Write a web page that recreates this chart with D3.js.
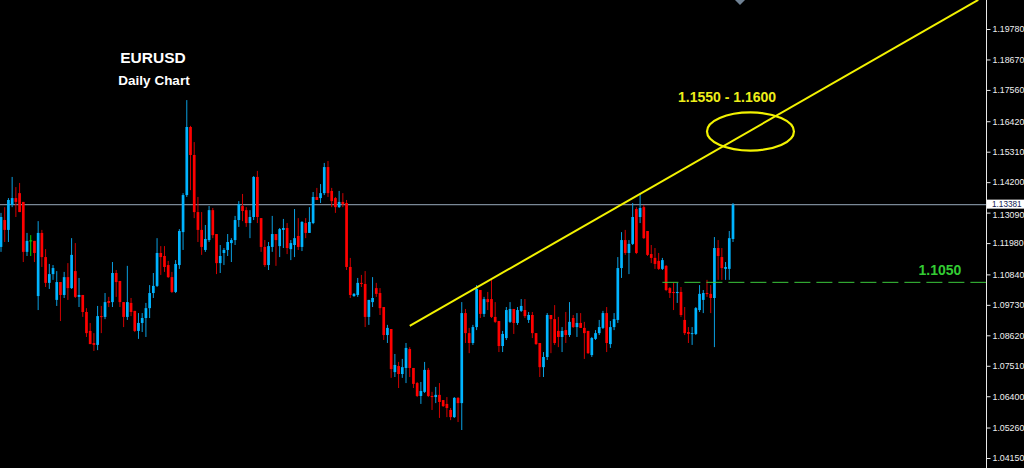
<!DOCTYPE html>
<html><head><meta charset="utf-8">
<script src="https://cdn.jsdelivr.net/npm/d3@7"></script>
<style>html,body{margin:0;padding:0;background:#000;overflow:hidden}svg{display:block}</style>
</head><body><svg id="c" width="1024" height="468"></svg>
<script>
const opens = [1.1184,1.1282,1.1246,1.1337,1.1362,1.1380,1.1348,1.1166,1.1206,1.1206,1.1005,1.1235,1.1147,1.1053,1.1085,1.0991,1.1056,1.1009,1.1074,1.1034,1.1096,1.1002,1.1009,1.0947,1.0878,1.0834,1.0827,1.0932,1.0929,1.0987,1.0983,1.1089,1.1060,1.0983,1.0929,1.0980,1.0951,1.0878,1.0907,1.0925,1.0961,1.1016,1.1042,1.1162,1.1151,1.1118,1.1074,1.1020,1.1118,1.1238,1.1373,1.1621,1.1519,1.1311,1.1246,1.1173,1.1209,1.1318,1.1231,1.1125,1.1162,1.1173,1.1198,1.1209,1.1282,1.1333,1.1318,1.1271,1.1293,1.1439,1.1289,1.1184,1.1118,1.1184,1.1231,1.1187,1.1246,1.1253,1.1176,1.1191,1.1224,1.1184,1.1271,1.1235,1.1271,1.1366,1.1362,1.1380,1.1475,1.1388,1.1362,1.1329,1.1348,1.1344,1.1111,1.1005,1.1009,1.1053,1.1049,1.0929,1.0983,1.1034,1.1016,1.0965,1.0863,1.0885,1.0728,1.0750,1.0721,1.0743,1.0812,1.0743,1.0688,1.0641,1.0656,1.0736,1.0641,1.0637,1.0645,1.0626,1.0612,1.0590,1.0564,1.0634,1.0615,1.0943,1.0870,1.0834,1.0892,1.1027,1.0940,1.0994,1.0994,1.0929,1.0914,1.0823,1.0852,1.0911,1.0958,1.0907,1.0951,1.0954,1.0918,1.0936,1.0870,1.0834,1.0746,1.0783,1.0936,1.0921,1.0878,1.0856,1.0881,1.0863,1.0925,1.0892,1.0907,1.0889,1.0878,1.0790,1.0849,1.0870,1.0889,1.0943,1.0830,1.0892,1.0918,1.1107,1.1209,1.1162,1.1195,1.1322,1.1293,1.1329,1.1242,1.1158,1.1144,1.1133,1.1104,1.1115,1.1034,1.1020,1.1016,1.1020,1.0918,1.0874,1.0867,1.0867,1.0954,1.0991,1.1016,1.1013,1.0998,1.1180,1.1147,1.1104,1.1104,1.1213];
const highs = [1.1308,1.1329,1.1362,1.1439,1.1402,1.1417,1.1348,1.1235,1.1227,1.1206,1.1278,1.1246,1.1176,1.1122,1.1118,1.1096,1.1056,1.1093,1.1125,1.1216,1.1198,1.1071,1.1009,1.0961,1.0907,1.0870,1.0969,1.0969,1.1016,1.1002,1.1129,1.1100,1.1060,1.0983,1.1115,1.0998,1.0951,1.0943,1.0943,1.0980,1.1045,1.1089,1.1216,1.1187,1.1187,1.1133,1.1093,1.1136,1.1249,1.1380,1.1719,1.1625,1.1566,1.1366,1.1311,1.1264,1.1333,1.1326,1.1231,1.1191,1.1180,1.1231,1.1216,1.1297,1.1351,1.1377,1.1329,1.1318,1.1442,1.1461,1.1289,1.1209,1.1202,1.1297,1.1231,1.1253,1.1286,1.1271,1.1209,1.1322,1.1289,1.1278,1.1289,1.1329,1.1384,1.1399,1.1413,1.1490,1.1497,1.1399,1.1366,1.1388,1.1380,1.1355,1.1144,1.1016,1.1071,1.1082,1.1096,1.0991,1.1074,1.1053,1.1034,1.0965,1.0900,1.0885,1.0794,1.0765,1.0776,1.0834,1.0819,1.0743,1.0692,1.0692,1.0765,1.0743,1.0656,1.0674,1.0688,1.0626,1.0637,1.0597,1.0637,1.0637,1.0983,1.0958,1.0889,1.0900,1.1045,1.1027,1.1002,1.1020,1.1064,1.0983,1.0914,1.0878,1.0965,1.0983,1.0958,1.0965,1.0994,1.0994,1.0947,1.0947,1.0870,1.0834,1.0801,1.0943,1.0936,1.0972,1.0929,1.0892,1.0947,1.0983,1.0936,1.0943,1.0943,1.0911,1.0878,1.0856,1.0881,1.0918,1.0951,1.0965,1.0914,1.0943,1.1147,1.1238,1.1246,1.1209,1.1344,1.1329,1.1380,1.1337,1.1242,1.1191,1.1180,1.1162,1.1144,1.1118,1.1038,1.1053,1.1053,1.1038,1.0965,1.0892,1.0892,1.0965,1.1045,1.1027,1.1064,1.1045,1.1220,1.1209,1.1180,1.1129,1.1242,1.1344];
const lows = [1.1166,1.1202,1.1202,1.1329,1.1293,1.1311,1.1129,1.1151,1.1151,1.1129,1.0954,1.1111,1.1038,1.1031,1.1064,1.0969,1.0914,1.0998,1.0991,1.1031,1.0998,1.0965,1.0929,1.0856,1.0830,1.0805,1.0808,1.0870,1.0921,1.0965,1.0965,1.1002,1.0965,1.0892,1.0918,1.0932,1.0874,1.0849,1.0874,1.0856,1.0925,1.0998,1.1038,1.1082,1.1093,1.1071,1.1016,1.1016,1.1104,1.1173,1.1366,1.1391,1.1289,1.1202,1.1155,1.1166,1.1202,1.1216,1.1085,1.1089,1.1118,1.1151,1.1129,1.1191,1.1257,1.1278,1.1257,1.1216,1.1282,1.1271,1.1166,1.1111,1.1100,1.1166,1.1115,1.1147,1.1180,1.1158,1.1136,1.1147,1.1173,1.1169,1.1216,1.1235,1.1267,1.1355,1.1344,1.1373,1.1366,1.1329,1.1308,1.1326,1.1329,1.1100,1.0998,1.1002,1.1002,1.1038,1.0892,1.0900,1.0965,1.1002,1.0936,1.0845,1.0834,1.0707,1.0710,1.0670,1.0707,1.0688,1.0710,1.0670,1.0637,1.0612,1.0652,1.0637,1.0590,1.0615,1.0561,1.0601,1.0564,1.0553,1.0561,1.0546,1.0517,1.0834,1.0797,1.0827,1.0881,1.0925,1.0929,1.0954,1.0925,1.0907,1.0801,1.0801,1.0845,1.0907,1.0867,1.0900,1.0947,1.0925,1.0907,1.0852,1.0827,1.0710,1.0710,1.0772,1.0797,1.0827,1.0819,1.0801,1.0834,1.0856,1.0889,1.0856,1.0889,1.0776,1.0794,1.0783,1.0845,1.0863,1.0885,1.0801,1.0816,1.0881,1.0907,1.1071,1.1155,1.1085,1.1191,1.1158,1.1271,1.1213,1.1151,1.1125,1.1104,1.1100,1.1100,1.1023,1.0998,1.0954,1.0980,1.0929,1.0863,1.0834,1.0827,1.0863,1.0947,1.0943,1.1002,1.0943,1.0819,1.1064,1.1064,1.1064,1.1064,1.1202];
const closes = [1.1293,1.1246,1.1355,1.1362,1.1348,1.1311,1.1166,1.1206,1.1206,1.1162,1.1235,1.1147,1.1053,1.1085,1.1107,1.1056,1.1009,1.1074,1.1034,1.1155,1.1002,1.1009,1.0947,1.0870,1.0830,1.0827,1.0932,1.0929,1.0983,1.0980,1.1089,1.1056,1.0983,1.0929,1.0983,1.0947,1.0878,1.0907,1.0925,1.0961,1.1016,1.1042,1.1162,1.1147,1.1111,1.1074,1.1020,1.1122,1.1242,1.1373,1.1621,1.1519,1.1311,1.1246,1.1184,1.1213,1.1318,1.1227,1.1125,1.1151,1.1173,1.1202,1.1209,1.1282,1.1340,1.1315,1.1271,1.1293,1.1439,1.1293,1.1184,1.1118,1.1187,1.1231,1.1209,1.1249,1.1253,1.1180,1.1198,1.1216,1.1184,1.1275,1.1235,1.1275,1.1366,1.1355,1.1380,1.1475,1.1380,1.1351,1.1329,1.1348,1.1340,1.1111,1.1009,1.1013,1.1053,1.1049,1.0929,1.0991,1.0998,1.1013,1.0961,1.0863,1.0889,1.0739,1.0754,1.0721,1.0746,1.0816,1.0743,1.0685,1.0641,1.0659,1.0736,1.0641,1.0637,1.0645,1.0619,1.0604,1.0597,1.0564,1.0634,1.0615,1.0943,1.0870,1.0834,1.0892,1.1031,1.0940,1.0994,1.0983,1.0929,1.0911,1.0823,1.0867,1.0954,1.0958,1.0907,1.0954,1.0969,1.0932,1.0936,1.0870,1.0830,1.0746,1.0783,1.0936,1.0921,1.0834,1.0856,1.0878,1.0863,1.0911,1.0892,1.0907,1.0889,1.0870,1.0797,1.0852,1.0870,1.0892,1.0943,1.0834,1.0892,1.0921,1.1107,1.1209,1.1162,1.1195,1.1293,1.1162,1.1326,1.1216,1.1155,1.1144,1.1122,1.1104,1.1136,1.1027,1.1016,1.1016,1.1020,1.0936,1.0870,1.0867,1.0870,1.0961,1.1013,1.1016,1.1013,1.0998,1.1180,1.1151,1.1107,1.1111,1.1216,1.13381];

const priceTicks = [1.19780,1.18670,1.17560,1.16420,1.15310,1.14200,1.13090,1.11980,1.10840,1.09730,1.08620,1.07510,1.06400,1.05260,1.04150];
const bidPrice = 1.13381;
const supportLevel = 1.1055;      // drawn level (labelled 1.1050)
const supportLabel = "1.1050";
const trendIdx = [110, 263];
const trendPrice = [1.0896, 1.2084];
const zoneIdx = [190, 213.4];
const zonePrice = [1.1535, 1.1674];
const zoneLabel = "1.1550 - 1.1600";
const titleText = "EURUSD";
const subtitleText = "Daily Chart";

const W = 1024, H = 468, axisX = 986;
const svg = d3.select("#c");
svg.append("rect").attr("width", W).attr("height", H).attr("fill", "#000");

const x = d3.scaleLinear().domain([0, opens.length - 1]).range([1, 733]);
const y = d3.scaleLinear().domain([1.04150, 1.19780]).range([458, 29]);

const data = opens.map((o, i) => ({i, o, h: highs[i], l: lows[i], c: closes[i]}));

const plot = svg.append("g");
// bid line
plot.append("line").attr("x1", 0).attr("x2", axisX).attr("y1", y(bidPrice)).attr("y2", y(bidPrice))
  .attr("stroke", "#7a8896").attr("stroke-width", 1.2);

const col = d => d.c > d.o ? "#00b4ff" : (d.c < d.o ? "#ff0000" : "#00dd00");
const wickCol = d => d.c > d.o ? "#0a9fe0" : (d.c < d.o ? "#d00000" : "#00dd00");

const cg = plot.append("g");
cg.selectAll("line.w").data(data).join("line").attr("class", "w")
  .attr("x1", d => x(d.i)).attr("x2", d => x(d.i))
  .attr("y1", d => y(d.h)).attr("y2", d => y(d.l))
  .attr("stroke", wickCol).attr("stroke-width", 1);
cg.selectAll("rect.b").data(data.filter(d => d.o !== d.c)).join("rect").attr("class", "b")
  .attr("x", d => x(d.i) - 1.35).attr("width", 2.7)
  .attr("y", d => y(Math.max(d.o, d.c)))
  .attr("height", d => Math.max(1, Math.abs(y(d.o) - y(d.c))))
  .attr("fill", col);
cg.selectAll("line.dj").data(data.filter(d => d.o === d.c)).join("line").attr("class", "dj")
  .attr("x1", d => x(d.i) - 1.5).attr("x2", d => x(d.i) + 1.5)
  .attr("y1", d => y(d.o)).attr("y2", d => y(d.o))
  .attr("stroke", "#00dd00").attr("stroke-width", 1);

// support dashed line
plot.append("line").attr("x1", x(178)).attr("x2", axisX)
  .attr("y1", y(supportLevel)).attr("y2", y(supportLevel))
  .attr("stroke", "#3cc83c").attr("stroke-width", 1).attr("stroke-dasharray", "16,6");
plot.append("text").attr("x", 940).attr("y", y(supportLevel) - 7)
  .attr("text-anchor", "middle").attr("font-family", "Liberation Sans, Arial, sans-serif")
  .attr("font-weight", "bold").attr("font-size", 14).attr("fill", "#33cc33").text(supportLabel);

// trend line
plot.append("line").attr("x1", x(trendIdx[0])).attr("y1", y(trendPrice[0]))
  .attr("x2", x(trendIdx[1])).attr("y2", y(trendPrice[1]))
  .attr("stroke", "#f2f200").attr("stroke-width", 2);

// zone ellipse
const ex0 = x(zoneIdx[0]), ex1 = x(zoneIdx[1]), ey0 = y(zonePrice[1]), ey1 = y(zonePrice[0]);
plot.append("ellipse").attr("cx", (ex0 + ex1) / 2).attr("cy", (ey0 + ey1) / 2)
  .attr("rx", (ex1 - ex0) / 2).attr("ry", (ey1 - ey0) / 2)
  .attr("fill", "none").attr("stroke", "#f2f200").attr("stroke-width", 2.2);
plot.append("text").attr("x", 727).attr("y", 102).attr("text-anchor", "middle")
  .attr("font-family", "Liberation Sans, Arial, sans-serif").attr("font-weight", "bold")
  .attr("font-size", 14).attr("fill", "#eeee1a").text(zoneLabel);

// titles
svg.append("text").attr("x", 153).attr("y", 63).attr("text-anchor", "middle")
  .attr("font-family", "Liberation Sans, Arial, sans-serif").attr("font-weight", "bold")
  .attr("font-size", 15.5).attr("fill", "#fff").text(titleText);
svg.append("text").attr("x", 154).attr("y", 85).attr("text-anchor", "middle")
  .attr("font-family", "Liberation Sans, Arial, sans-serif").attr("font-weight", "bold")
  .attr("font-size", 13.5).attr("fill", "#fff").text(subtitleText);

// chart shift marker
svg.append("path").attr("d", "M735,0 L745,0 L740,5 Z").attr("fill", "#708294");

// price axis
svg.append("line").attr("x1", axisX + 0.5).attr("x2", axisX + 0.5).attr("y1", 0).attr("y2", H)
  .attr("stroke", "#e8e8e8").attr("stroke-width", 1);
const axis = d3.axisRight(y).tickValues(priceTicks).tickSize(4).tickSizeOuter(0)
  .tickFormat(d3.format(".5f")).tickPadding(2);
const ag = svg.append("g").attr("transform", `translate(${axisX + 0.5},0)`).call(axis);
ag.select(".domain").remove();
ag.selectAll(".tick line").attr("stroke", "#e8e8e8");
ag.selectAll(".tick text").attr("fill", "#f0f0f0")
  .attr("font-family", "Liberation Sans, Arial, sans-serif").attr("font-size", 8.8)
  .attr("dy", d => d === 1.13090 ? "0.55em" : "0.32em");

// bid label
const by = y(bidPrice);
svg.append("rect").attr("x", axisX + 1).attr("y", by - 5).attr("width", W - axisX - 1).attr("height", 9)
  .attr("fill", "#ffffff");
svg.append("text").attr("x", axisX + 6).attr("y", by + 2.6)
  .attr("font-family", "Liberation Sans, Arial, sans-serif").attr("font-size", 8.2)
  .attr("fill", "#102050").text(d3.format(".5f")(bidPrice));
</script></body></html>
